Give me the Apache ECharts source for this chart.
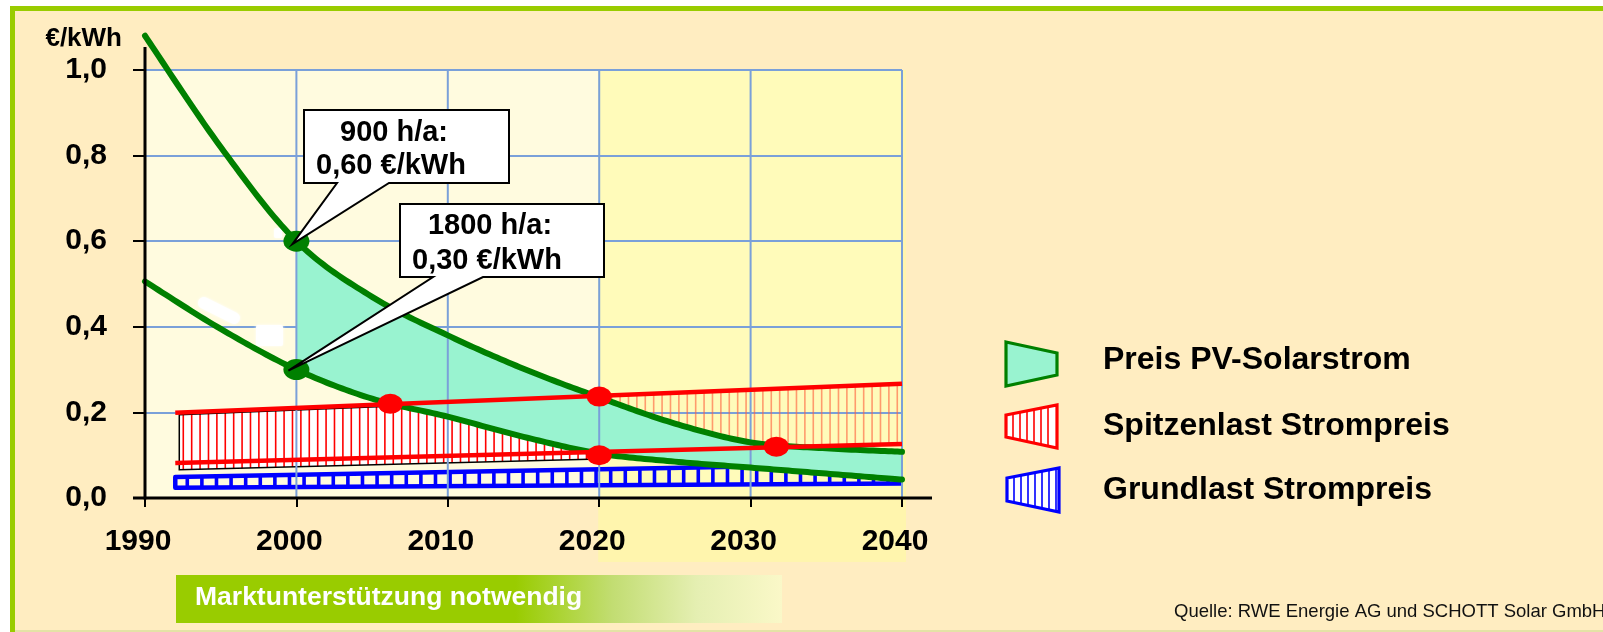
<!DOCTYPE html>
<html>
<head>
<meta charset="utf-8">
<script src="https://cdn.jsdelivr.net/npm/echarts@6/dist/echarts.min.js"></script>
<style>
  html, body { margin: 0; padding: 0; background: #fff; }
  #chart { width: 1603px; height: 632px; }
</style>
</head>
<body>
<div id="chart"></div>
<script>
const FONT = "'Liberation Sans', Arial, Helvetica, sans-serif";

// PV electricity price for 900 and 1800 full-load hours per year (€/kWh)
const years  = [1990, 1995, 2000, 2005, 2010, 2015, 2020, 2025, 2030, 2035, 2040];
const pv900  = [1.08, 0.82, 0.60, 0.47, 0.38, 0.302, 0.235, 0.174, 0.13, 0.116, 0.108];
const pv1800 = [0.506, 0.395, 0.30, 0.232, 0.19, 0.143, 0.104, 0.085, 0.071, 0.057, 0.043];

// the PV price corridor is shaded from this year on
const corridorFrom = 2000;

// peak-load and base-load electricity price corridors (start / end)
const gridYears = [1992, 2040];
const peakHigh  = [0.199, 0.267];
const peakLow   = [0.082, 0.126];
const baseHigh  = [0.049, 0.08];
const baseLow   = [0.024, 0.034];

// highlighted outlook period
const outlookYears = [2020, 2040];

// where the PV price meets the conventional electricity prices
const crossings = [[2006.2, 0.22], [2020, 0.237], [2020, 0.1], [2031.7, 0.12]];

// reference points for the two solar yields
const refYields = ['900 h/a:', '1800 h/a:'];
const refPoints = [[2000, 0.60], [2000, 0.30]];

const xTicks = [1990, 2000, 2010, 2020, 2030, 2040];
const yTicks = [0, 0.2, 0.4, 0.6, 0.8, 1.0];

const legendNames = ['Preis PV-Solarstrom', 'Spitzenlast Strompreis', 'Grundlast Strompreis'];
const bannerText = 'Marktunterstützung notwendig';
const sourceText = 'Quelle: RWE Energie AG und SCHOTT Solar GmbH';
const unitText = '€/kWh';

const GREEN = '#008000', TEAL = '#99F3D0', RED = '#FF0000', BLUE = '#0000FF', GRIDC = '#7AA0D9';
const STEPS = 20;

const fmtComma = (v, d) => v.toFixed(d).replace('.', ',');
const lerpY = (p, q, x) => p[1] + (q[1] - p[1]) * (x - p[0]) / (q[0] - p[0]);

// Catmull-Rom curve through pixel points, sampled into a dense polyline
function sampleCurve(pts) {
  const n = pts.length, out = [pts[0].slice()];
  for (let i = 0; i < n - 1; i++) {
    const p0 = pts[Math.max(i - 1, 0)], p1 = pts[i], p2 = pts[i + 1], p3 = pts[Math.min(i + 2, n - 1)];
    const c1 = [p1[0] + (p2[0] - p0[0]) / 6, p1[1] + (p2[1] - p0[1]) / 6];
    const c2 = [p2[0] - (p3[0] - p1[0]) / 6, p2[1] - (p3[1] - p1[1]) / 6];
    for (let k = 1; k <= STEPS; k++) {
      const t = k / STEPS, u = 1 - t;
      const a = u * u * u, b = 3 * u * u * t, c = 3 * u * t * t, d = t * t * t;
      out.push([a * p1[0] + b * c1[0] + c * c2[0] + d * p2[0], a * p1[1] + b * c1[1] + c * c2[1] + d * p2[1]]);
    }
  }
  return out;
}
const curvePixels = (api, vals) => sampleCurve(years.map((y, i) => api.coord([y, vals[i]])));

// hatched peak-load corridor: white backed on the left, translucent in the outlook period
function renderPeakBand(params, api) {
  const tl = api.coord([gridYears[0], peakHigh[0]]), tr = api.coord([gridYears[1], peakHigh[1]]);
  const bl = api.coord([gridYears[0], peakLow[0]]),  br = api.coord([gridYears[1], peakLow[1]]);
  const xs = api.coord([outlookYears[0], 0])[0];
  const x0 = tl[0] + 4, drop = 7;
  const children = [];
  children.push({
    type: 'polygon',
    shape: { points: [[x0, lerpY(tl, tr, x0)], [xs, lerpY(tl, tr, xs)], [xs, lerpY(bl, br, xs) + drop], [x0, lerpY(bl, br, x0) + drop]] },
    style: { fill: '#fff' }
  });
  for (let x = x0 + 4; x < tr[0] - 1; x += 8.4) {
    const left = x < xs;
    children.push({
      type: 'line',
      shape: { x1: x, y1: lerpY(tl, tr, x), x2: x, y2: lerpY(bl, br, x) + (left ? drop : 0) },
      style: { stroke: left ? RED : 'rgba(255,95,60,0.62)', lineWidth: 1.6 }
    });
  }
  children.push({
    type: 'polyline',
    shape: { points: [[xs, lerpY(tl, tr, xs) + 2], [x0, lerpY(tl, tr, x0) + 2], [x0, lerpY(bl, br, x0) + drop], [xs, lerpY(bl, br, xs) + drop]] },
    style: { stroke: '#000', lineWidth: 1.5, fill: null }
  });
  return { type: 'group', children };
}

// base-load corridor: blue frame with vertical bars
function renderBaseBand(params, api) {
  const tl = api.coord([gridYears[0], baseHigh[0]]), tr = api.coord([gridYears[1], baseHigh[1]]);
  const bl = api.coord([gridYears[0], baseLow[0]]),  br = api.coord([gridYears[1], baseLow[1]]);
  const children = [];
  for (let x = tl[0] + 12; x < tr[0] - 2; x += 14.6) {
    children.push({
      type: 'line',
      shape: { x1: x, y1: lerpY(tl, tr, x), x2: x, y2: lerpY(bl, br, x) },
      style: { stroke: BLUE, lineWidth: 3.6 }
    });
  }
  children.push({
    type: 'polyline',
    shape: { points: [tr, tl, bl, br] },
    style: { fill: null, stroke: BLUE, lineWidth: 4.5, lineJoin: 'round' }
  });
  return { type: 'group', children };
}

// PV price corridor between the two yield curves
function renderCorridor(params, api) {
  const start = years.indexOf(corridorFrom) * STEPS;
  const upper = curvePixels(api, pv900).slice(start);
  const lower = curvePixels(api, pv1800).slice(start).reverse();
  return { type: 'polygon', shape: { points: upper.concat(lower) }, style: { fill: TEAL } };
}

function renderCurve(vals) {
  return (params, api) => ({
    type: 'polyline',
    shape: { points: curvePixels(api, vals) },
    style: { stroke: GREEN, lineWidth: 6, fill: null, lineJoin: 'round', lineCap: 'round' }
  });
}

const chart = echarts.init(document.getElementById('chart'));

const option = {
  animation: false,
  backgroundColor: '#FFEDC1',
  grid: { left: 145, right: 701, top: 70, bottom: 134, show: true, backgroundColor: '#FFFBDF', borderWidth: 0, z: 0 },
  xAxis: {
    type: 'value', min: xTicks[0], max: xTicks[xTicks.length - 1], interval: 10, z: 2,
    axisLine: { show: false },
    axisTick: { show: true, length: 9, lineStyle: { color: '#000', width: 2 } },
    axisLabel: { margin: 29, color: '#000', fontFamily: FONT, fontWeight: 'bold', fontSize: 30, padding: [0, 14, 0, 0], formatter: v => String(v) },
    splitLine: { show: false }
  },
  yAxis: {
    type: 'value', min: yTicks[0], max: yTicks[yTicks.length - 1], interval: 0.2, z: 2,
    axisLine: { show: false },
    axisTick: { show: true, length: 12, lineStyle: { color: '#000', width: 2 } },
    axisLabel: { margin: 38, color: '#000', fontFamily: FONT, fontWeight: 'bold', fontSize: 30, padding: [14, 0, 0, 0], formatter: v => fmtComma(v, 1) },
    splitLine: { show: true, lineStyle: { color: GRIDC, width: 2 } }
  },
  series: [
    { type: 'custom', name: legendNames[1], z: 3, silent: true, data: [[gridYears[0], peakHigh[0]]], renderItem: renderPeakBand },
    { type: 'custom', name: legendNames[2], z: 3, silent: true, data: [[gridYears[0], baseHigh[0]]], renderItem: renderBaseBand },
    { type: 'custom', name: legendNames[0], z: 4, silent: true, data: [[corridorFrom, pv900[years.indexOf(corridorFrom)]]], renderItem: renderCorridor },
    {
      type: 'custom', name: 'vgrid', z: 5, silent: true,
      data: xTicks.slice(1).map(v => [v, 0]),
      encode: { x: 0, y: 1 },
      renderItem: (params, api) => {
        const v = api.value(0);
        const a = api.coord([v, yTicks[0]]), b = api.coord([v, yTicks[yTicks.length - 1]]);
        return { type: 'line', shape: { x1: a[0], y1: a[1], x2: b[0], y2: b[1] }, style: { stroke: GRIDC, lineWidth: 2 } };
      }
    },
    { type: 'line', name: 'peakHigh', z: 6, data: gridYears.map((y, i) => [y, peakHigh[i]]), showSymbol: false, lineStyle: { color: RED, width: 4.5 }, silent: true },
    { type: 'line', name: 'peakLow', z: 6, data: gridYears.map((y, i) => [y, peakLow[i]]), showSymbol: false, lineStyle: { color: RED, width: 4.5 }, silent: true },
    { type: 'custom', name: '900 h/a', z: 6, silent: true, clip: false, data: [[years[0], pv900[0]]], renderItem: renderCurve(pv900) },
    { type: 'custom', name: '1800 h/a', z: 6, silent: true, clip: false, data: [[years[0], pv1800[0]]], renderItem: renderCurve(pv1800) },
    { type: 'scatter', z: 7, data: crossings, symbol: 'circle', symbolSize: [25, 20], itemStyle: { color: RED, opacity: 1 }, silent: true },
    { type: 'scatter', z: 7, data: refPoints, symbol: 'circle', symbolSize: [26, 21], itemStyle: { color: GREEN, opacity: 1 }, silent: true }
  ]
};

chart.setOption(option);

const px = p => chart.convertToPixel({ gridIndex: 0 }, p);
const origin = px([xTicks[0], yTicks[0]]);
const topLeft = px([xTicks[0], yTicks[yTicks.length - 1]]);
const endX = px([xTicks[xTicks.length - 1], yTicks[0]]);
const outA = px([outlookYears[0], yTicks[yTicks.length - 1]]);
const outB = px([outlookYears[1], yTicks[0]]);

function txt(text, x, y, size, opts) {
  opts = opts || {};
  return {
    type: 'text', z: opts.z || 30,
    style: {
      text, x, y,
      font: (opts.weight || 'bold') + ' ' + size + 'px ' + FONT,
      fill: opts.color || '#000',
      align: opts.align || 'left', textAlign: opts.align || 'left',
      verticalAlign: 'middle', textVerticalAlign: 'middle'
    }
  };
}

function callout(box, base, tip) {
  const [x0, y0, x1, y1] = box;
  return {
    type: 'polygon', z: 25,
    shape: { points: [[x0, y0], [x1, y0], [x1, y1], [base[1], y1], tip, [base[0], y1], [x0, y1]] },
    style: { fill: '#fff', stroke: '#000', lineWidth: 2, lineJoin: 'miter' }
  };
}

function legendIcon(pts, fill, stroke, hatch) {
  const children = [{ type: 'polygon', shape: { points: pts }, style: { fill, stroke: null } }];
  if (hatch) {
    const t0 = pts[0], t1 = pts[1], b1 = pts[2], b0 = pts[3];
    for (let x = t0[0] + 7; x < t1[0] - 2; x += 7) {
      children.push({ type: 'line', shape: { x1: x, y1: lerpY(t0, t1, x), x2: x, y2: lerpY(b0, b1, x) }, style: { stroke: hatch, lineWidth: 1.6 } });
    }
  }
  children.push({ type: 'polygon', shape: { points: pts }, style: { fill: null, stroke, lineWidth: 3.2 } });
  return { type: 'group', z: 20, children };
}

const tip1 = px(refPoints[0]), tip2 = px(refPoints[1]);

const graphics = [
  // outer frame
  { type: 'rect', z: 40, shape: { x: 0, y: 0, width: 1603, height: 6 }, style: { fill: '#fff' } },
  { type: 'rect', z: 40, shape: { x: 0, y: 0, width: 10, height: 632 }, style: { fill: '#fff' } },
  { type: 'rect', z: 41, shape: { x: 10, y: 6, width: 1593, height: 5 }, style: { fill: '#99CC00' } },
  { type: 'rect', z: 41, shape: { x: 10, y: 6, width: 5, height: 626 }, style: { fill: '#99CC00' } },
  { type: 'rect', z: 41, shape: { x: 15, y: 630, width: 1588, height: 2 }, style: { fill: '#E4E2A6' } },

  // highlighted outlook period
  { type: 'rect', z: 1, silent: true, shape: { x: outA[0] - 1, y: outA[1], width: outB[0] - outA[0] + 5, height: outB[1] - outA[1] + 64 }, style: { fill: 'rgba(255,252,158,0.57)' } },

  // soft white smudges in the plot
  { type: 'line', z: 3, shape: { x1: 204, y1: 303, x2: 234, y2: 318 }, style: { stroke: 'rgba(255,255,255,0.95)', lineWidth: 12, lineCap: 'round', shadowBlur: 3, shadowColor: '#fff' } },
  { type: 'rect', z: 3, shape: { x: 256, y: 325, width: 27, height: 21, r: 2 }, style: { fill: 'rgba(255,255,255,0.95)', shadowBlur: 3, shadowColor: '#fff' } },
  { type: 'rect', z: 3, shape: { x: 274, y: 228, width: 8, height: 10, r: 2 }, style: { fill: 'rgba(255,255,255,0.9)', shadowBlur: 2, shadowColor: '#fff' } },

  // axis lines
  { type: 'line', z: 26, shape: { x1: origin[0], y1: origin[1] + 1.5, x2: origin[0], y2: topLeft[1] - 23 }, style: { stroke: '#000', lineWidth: 3 } },
  { type: 'line', z: 26, shape: { x1: origin[0] - 12, y1: origin[1], x2: endX[0] + 30, y2: origin[1] }, style: { stroke: '#000', lineWidth: 3 } },
  txt(unitText, 122, 39, 26, { align: 'right' }),

  // callouts
  callout([304, 110, 509, 183], [337, 389], [tip1[0] - 4, tip1[1] + 3]),
  txt(refYields[0], 394, 133, 29, { align: 'center' }),
  txt(fmtComma(refPoints[0][1], 2) + ' ' + unitText, 391, 166, 29, { align: 'center' }),
  callout([400, 204, 604, 277], [433, 483], [tip2[0] - 8, tip2[1] + 1]),
  txt(refYields[1], 490, 226, 29, { align: 'center' }),
  txt(fmtComma(refPoints[1][1], 2) + ' ' + unitText, 487, 261, 29, { align: 'center' }),

  // legend
  legendIcon([[1006, 342], [1057, 353], [1057, 375], [1006, 386]], TEAL, GREEN, null),
  legendIcon([[1006, 415], [1057, 405], [1057, 448], [1006, 437]], '#fff', RED, RED),
  legendIcon([[1007, 478], [1059, 468], [1059, 512], [1007, 501]], '#fff', BLUE, BLUE),
  txt(legendNames[0], 1103, 360, 32),
  txt(legendNames[1], 1103, 426, 32),
  txt(legendNames[2], 1103, 490, 32),

  // banner
  {
    type: 'rect', z: 20, shape: { x: 176, y: 575, width: 606, height: 48 },
    style: {
      fill: new echarts.graphic.LinearGradient(0, 0, 1, 0, [
        { offset: 0, color: '#99CC00' }, { offset: 0.56, color: '#99CC00' },
        { offset: 0.72, color: '#C2DD72' }, { offset: 0.86, color: '#E5EFB2' }, { offset: 1, color: '#FAF8C8' }
      ])
    }
  },
  txt(bannerText, 195, 598, 26.5, { color: '#fff' }),

  // source
  txt(sourceText, 1174, 612, 18.5, { weight: 'normal', color: '#111' })
];

chart.setOption({ graphic: graphics });
</script>
</body>
</html>
